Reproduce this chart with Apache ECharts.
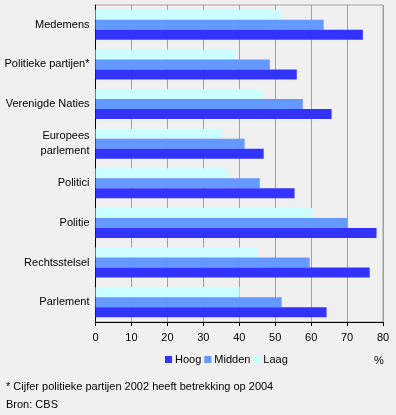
<!DOCTYPE html>
<html>
<head>
<meta charset="utf-8">
<script src="https://cdn.jsdelivr.net/npm/echarts@6/dist/echarts.min.js"></script>
<style>
  html, body { margin: 0; padding: 0; background: #f0f0f0; }
  #chart { width: 396px; height: 415px; }
</style>
</head>
<body>
<div id="chart"></div>
<script>
// categorieen, van boven naar beneden
const categories = ['Medemens', 'Politieke partijen*', 'Verenigde Naties', 'Europees\nparlement', 'Politici', 'Politie', 'Rechtsstelsel', 'Parlement']
// vertrouwen per opleidingsniveau (%)
const hoog = [74.4, 56.0, 65.7, 46.8, 55.4, 78.2, 76.3, 64.3]
const midden = [63.5, 48.5, 57.7, 41.5, 45.7, 70.0, 59.6, 51.8]
const laag = [51.7, 38.8, 46.6, 35.1, 36.7, 60.4, 45.1, 40.1]
const xTicks = [0, 10, 20, 30, 40, 50, 60, 70, 80]

const font = 'Liberation Sans, Arial, sans-serif'
const chart = echarts.init(document.getElementById('chart'))

const option = {
  backgroundColor: '#f0f0f0',
  animation: false,
  textStyle: { fontFamily: font },
  grid: {
    left: 95.5,
    top: 5,
    right: 13,
    bottom: 93,
    outerBoundsMode: 'none',
    containLabel: false,
    show: true,
    borderColor: '#a0a0a0',
    borderWidth: 1,
    backgroundColor: 'transparent'
  },
  legend: {
    data: ['Hoog', 'Midden', 'Laag'],
    left: 165,
    top: 354,
    padding: 0,
    icon: 'rect',
    itemWidth: 7,
    itemHeight: 7,
    itemGap: 3,
    textStyle: { fontSize: 11, color: '#000', fontFamily: font, padding: [0, 0, 0, -2] }
  },
  xAxis: {
    type: 'value',
    min: xTicks[0],
    max: xTicks[xTicks.length - 1],
    interval: 10,
    axisLine: { show: true, lineStyle: { color: '#000' } },
    axisTick: { show: true, length: 4, lineStyle: { color: '#000' } },
    axisLabel: { color: '#000', fontSize: 11, fontFamily: font, margin: 10 },
    splitLine: { show: true, lineStyle: { color: '#a0a0a0', width: 1 } }
  },
  yAxis: {
    type: 'category',
    inverse: true,
    data: categories,
    axisLine: { show: true, lineStyle: { color: '#000' } },
    axisTick: { show: false },
    axisLabel: { color: '#000', fontSize: 11, fontFamily: font, margin: 6, lineHeight: 15 }
  },
  series: [
    { name: 'Laag', type: 'bar', data: laag, itemStyle: { color: '#ccffff' } },
    { name: 'Midden', type: 'bar', data: midden, itemStyle: { color: '#6699ff' } },
    { name: 'Hoog', type: 'bar', data: hoog, itemStyle: { color: '#3333ff' }, barGap: '0%', barCategoryGap: '24%' }
  ],
  graphic: [
    { type: 'text', left: 374, top: 355, style: { text: '%', fontSize: 11, fontFamily: font, fill: '#000' } },
    { type: 'text', left: 6, top: 381, style: { text: '* Cijfer politieke partijen 2002 heeft betrekking op 2004', fontSize: 11, fontFamily: font, fill: '#000' } },
    { type: 'text', left: 6, top: 399, style: { text: 'Bron: CBS', fontSize: 11, fontFamily: font, fill: '#000' } }
  ]
}
chart.setOption(option)
</script>
</body>
</html>
